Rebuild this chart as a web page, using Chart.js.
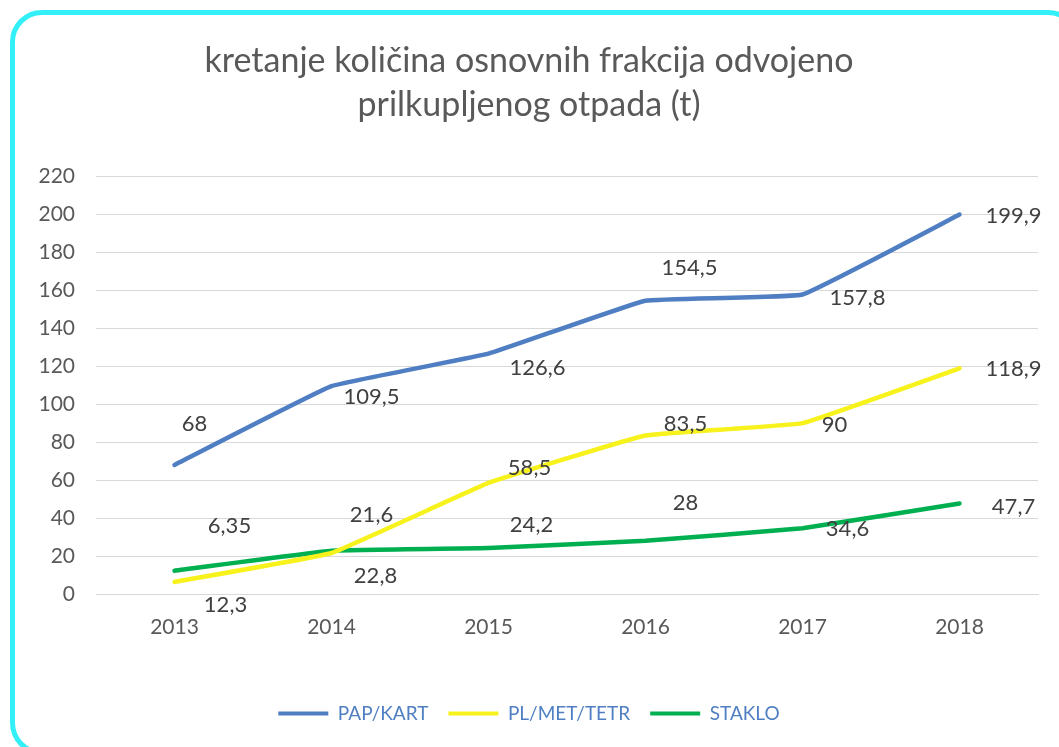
<!DOCTYPE html>
<html>
<head>
<meta charset="utf-8">
<script src="https://cdn.jsdelivr.net/npm/chart.js@4"></script>
<style>
  html, body { margin: 0; padding: 0; background: #fff; overflow: hidden; }
  #wrap { position: relative; width: 1059px; height: 747px; }
  #frame {
    position: absolute; left: 10px; top: 10px; width: 1070px; height: 745px;
    border: 5px solid #33F0F8; border-radius: 32px; box-sizing: border-box;
  }
  #box { position: absolute; left: 0; top: 0; width: 1059px; height: 747px; }
</style>
</head>
<body>
<div id="wrap">
  <div id="frame"></div>
  <div id="box"><canvas id="trendChart"></canvas></div>
</div>
<script>
// chart data
const years = ['2013', '2014', '2015', '2016', '2017', '2018'];
const papKart = [68, 109.5, 126.6, 154.5, 157.8, 199.9];
const plMetTetr = [6.35, 21.6, 58.5, 83.5, 90, 118.9];
const staklo = [12.3, 22.8, 24.2, 28, 34.6, 47.7];
const yTicks = [0, 20, 40, 60, 80, 100, 120, 140, 160, 180, 200, 220];

// where Excel put each value label, relative to its point (px)
const papOffsets = [[20, -41], [40, 11], [49, 14], [44, -33], [55, 3], [54, 1]];
const plOffsets = [[55, -56], [40, -38], [41, -15], [40, -12], [32, 2], [54, 1]];
const stakloOffsets = [[51, 34], [44, 25], [43, -23], [40, -38], [45, 1], [54, 3]];

const fmt = v => String(v).replace('.', ',');

// draws the value labels next to each point
const valueLabels = {
  id: 'valueLabels',
  afterDatasetsDraw(chart) {
    const ctx = chart.ctx;
    ctx.save();
    ctx.font = '22px Lato';
    ctx.fillStyle = '#404040';
    ctx.textAlign = 'center';
    ctx.textBaseline = 'middle';
    chart.data.datasets.forEach((ds, i) => {
      const meta = chart.getDatasetMeta(i);
      meta.data.forEach((pt, j) => {
        const off = ds.labelOffsets[j];
        ctx.fillText(fmt(ds.data[j]), pt.x + off[0], pt.y + off[1]);
      });
    });
    ctx.restore();
  }
};

const ctx = document.getElementById('trendChart').getContext('2d');

const trendChart = new Chart(ctx, {
  type: 'line',
  data: {
    labels: years,
    datasets: [
      {
        label: 'PAP/KART',
        data: papKart,
        labelOffsets: papOffsets,
        borderColor: '#4F7FC2',
        backgroundColor: '#4F7FC2',
      },
      {
        label: 'PL/MET/TETR',
        data: plMetTetr,
        labelOffsets: plOffsets,
        borderColor: '#F7F21C',
        backgroundColor: '#F7F21C',
      },
      {
        label: 'STAKLO',
        data: staklo,
        labelOffsets: stakloOffsets,
        borderColor: '#00B050',
        backgroundColor: '#00B050',
      },
    ],
  },
  options: {
    responsive: true,
    maintainAspectRatio: false,
    animation: false,
    elements: {
      line: { borderWidth: 4.5, tension: 0.08, borderCapStyle: 'round', borderJoinStyle: 'round', fill: false },
      point: { radius: 0, hoverRadius: 0 },
    },
    layout: {
      padding: { left: 20, right: 21, top: 39, bottom: 14 },
    },
    plugins: {
      title: {
        display: true,
        text: ['kretanje količina osnovnih frakcija odvojeno', 'prilkupljenog otpada (t)'],
        color: '#595959',
        font: { family: 'Lato', size: 34, weight: 'normal', lineHeight: 1.3 },
        padding: { top: 0, bottom: 49 },
      },
      legend: {
        display: true,
        position: 'bottom',
        labels: {
          color: '#4F7FC2',
          font: { family: 'Lato', size: 19 },
          boxWidth: 50,
          boxHeight: 4,
          padding: 20,
          generateLabels(chart) {
            const items = Chart.defaults.plugins.legend.labels.generateLabels(chart);
            items.forEach(it => { it.lineWidth = 0; });
            return items;
          },
        },
      },
      tooltip: { enabled: false },
    },
    scales: {
      x: {
        offset: true,
        grid: { display: false },
        border: { display: true, color: '#D9D9D9', width: 1 },
        ticks: {
          color: '#595959',
          font: { family: 'Lato', size: 21 },
          padding: 13,
        },
        afterFit(scale) { scale.height = 90; },
      },
      y: {
        min: 0,
        max: 220,
        afterBuildTicks(scale) { scale.ticks = yTicks.map(v => ({ value: v })); },
        grid: { color: '#D9D9D9', drawTicks: false },
        border: { display: false },
        ticks: {
          color: '#595959',
          font: { family: 'Lato', size: 21 },
          padding: 21,
        },
        afterFit(scale) { scale.width = 76; },
      },
    },
  },
  plugins: [valueLabels],
});
</script>
</body>
</html>
